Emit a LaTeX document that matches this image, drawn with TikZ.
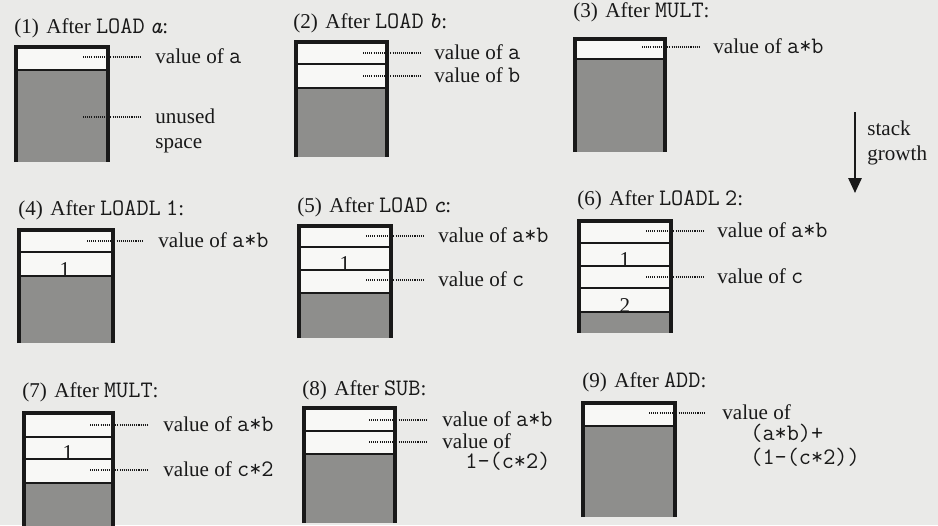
\documentclass[tikz,border=0pt]{standalone}
\usepackage{fontspec}
\setmainfont{Liberation Serif}
\setmonofont{Latin Modern Mono}[Scale=1.12]
\usetikzlibrary{arrows.meta}
\definecolor{paper}{RGB}{234,234,232}
\definecolor{cellw}{RGB}{248,248,246}
\definecolor{unused}{RGB}{142,142,140}
\definecolor{ink}{RGB}{25,25,25}
\newcommand\fs{\fontsize{12}{14}\selectfont}
\newcommand\cd[1]{{\ttfamily #1}}
\newcommand\cdi[1]{{\ttfamily\itshape #1}}
\tikzset{
  frame/.style={line width=2.3pt, draw=ink, line join=miter},
  divider/.style={line width=1.1pt, draw=ink},
  leader/.style={line width=0.6pt, draw=ink, dash pattern=on 0.6pt off 0.6pt},
  lbl/.style={anchor=base west, inner sep=0pt, font=\fs, text=ink},
  cellnum/.style={anchor=base, inner sep=0pt, font=\fs, text=ink},
}
% #1 xl, #2 xr, #3 yt, #4 yb (outer), #5 top of unused space, #6 dividers
\newcommand\stk[6]{%
  \fill[cellw] (#1,#3) rectangle (#2,#5);
  \fill[unused] (#1,#5) rectangle (#2,#4);
  \foreach \dv in {#6} {\draw[divider] (#1,\dv) -- (#2,\dv);}
  \draw[frame] ({#1+2},#4) -- ({#1+2},{#3+2}) -- ({#2-2},{#3+2}) -- ({#2-2},#4);
}
\begin{document}
\begin{tikzpicture}[x=0.02cm,y=-0.02cm]
\fill[paper] (0,0) rectangle (938,525);
\useasboundingbox (0,0) rectangle (938,525);

% ---------- (1)
\node[lbl] (t1) at (14,33) {(1)\hspace{0.35em}After \cd{LOAD} \cdi{a}:};
\stk{14}{110}{45}{162}{70}{70}
\node[lbl] (l1a) at (155,63) {value of \cd{a}};
\node[lbl] (l1b) at (155,123) {unused};
\node[lbl] (l1c) at (155,148) {space};
\draw[leader] (83,57) -- (140,57);
\draw[leader] (83,117) -- (140,117);

% ---------- (2)
\node[lbl] (t2) at (293,28) {(2)\hspace{0.35em}After \cd{LOAD} \cdi{b}:};
\stk{294}{389}{40}{157}{88}{64,88}
\node[lbl] (l2a) at (434,59) {value of \cd{a}};
\node[lbl] (l2b) at (434,82) {value of \cd{b}};
\draw[leader] (363,53) -- (420,53);
\draw[leader] (363,76) -- (420,76);

% ---------- (3)
\node[lbl] (t3) at (573,17) {(3)\hspace{0.35em}After \cd{MULT}:};
\stk{573}{667}{37}{152}{59}{59}
\node[lbl] (l3a) at (713,53) {value of \cd{a*b}};
\draw[leader] (642,47) -- (700,47);

% stack growth arrow
\coordinate (g1) at (855,112);
\coordinate (g2) at (855,193);
\draw[line width=1.3pt, draw=ink, -{Triangle[width=7.5pt,length=8.5pt]}] (g1) -- (g2);
\node[lbl] (sg1) at (867,135) {stack};
\node[lbl] (sg2) at (867,160) {growth};

% ---------- (4)
\node[lbl] (t4) at (18,215) {(4)\hspace{0.35em}After \cd{LOADL}~\cd{1}:};
\stk{17}{115}{228}{343}{276}{252,276}
\node[cellnum] (n4a) at (65,276) {1};
\node[lbl] (l4a) at (158,247) {value of \cd{a*b}};
\draw[leader] (87,241) -- (143,241);

% ---------- (5)
\node[lbl] (t5) at (297,212) {(5)\hspace{0.35em}After \cd{LOAD} \cdi{c}:};
\stk{297}{393}{224}{338}{293}{247,270,293}
\node[cellnum] (n5a) at (345,270) {1};
\node[lbl] (l5a) at (438,242) {value of \cd{a*b}};
\node[lbl] (l5b) at (438,286) {value of \cd{c}};
\draw[leader] (366,236) -- (424,236);
\draw[leader] (366,280) -- (424,280);

% ---------- (6)
\node[lbl] (t6) at (577,205) {(6)\hspace{0.35em}After \cd{LOADL}~\cd{2}:};
\stk{577}{673}{219}{333}{312}{243,266,288,312}
\node[cellnum] (n6a) at (625,266) {1};
\node[cellnum] (n6b) at (625,312) {2};
\node[lbl] (l6a) at (717,237) {value of \cd{a*b}};
\node[lbl] (l6b) at (717,283) {value of \cd{c}};
\draw[leader] (646,231) -- (703,231);
\draw[leader] (646,277) -- (703,277);

% ---------- (7)
\node[lbl] (t7) at (22,397) {(7)\hspace{0.35em}After \cd{MULT}:};
\stk{22}{115}{411}{526}{483}{437,459,483}
\node[cellnum] (n7a) at (68,459) {1};
\node[lbl] (l7a) at (163,431) {value of \cd{a*b}};
\node[lbl] (l7b) at (163,476) {value of \cd{c*2}};
\draw[leader] (90,425) -- (147,425);
\draw[leader] (90,470) -- (147,470);

% ---------- (8)
\node[lbl] (t8) at (302,395) {(8)\hspace{0.35em}After \cd{SUB}:};
\stk{302}{397}{406}{523}{454}{431,454}
\node[lbl] (l8a) at (442,426) {value of \cd{a*b}};
\node[lbl] (l8b) at (442,448) {value of};
\node[lbl] (l8c) at (465,468) {\cd{1-(c*2)}};
\draw[leader] (369,420) -- (427,420);
\draw[leader] (369,442) -- (427,442);

% ---------- (9)
\node[lbl] (t9) at (582,387) {(9)\hspace{0.35em}After \cd{ADD}:};
\stk{581}{677}{401}{517}{426}{426}
\node[lbl] (l9a) at (722,419) {value of};
\node[lbl, align=left, font=\fontsize{12}{13.2}\selectfont] (l9b) at (750,464)
  {\cd{(a*b)+}\\\cd{(1-(c*2))}};
\draw[leader] (649,413) -- (705,413);
\end{tikzpicture}
\end{document}
